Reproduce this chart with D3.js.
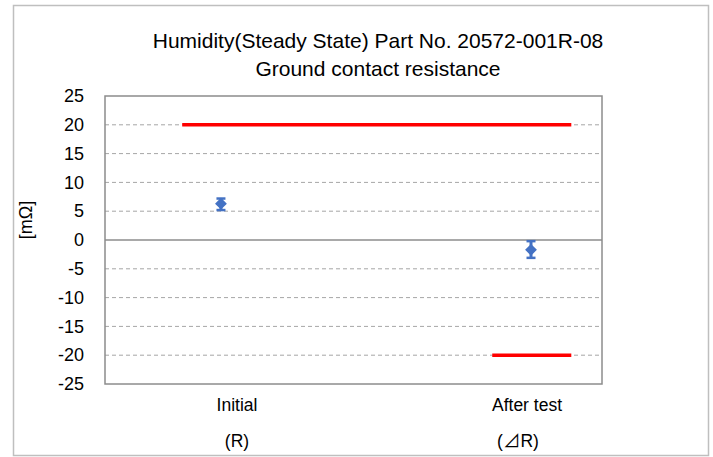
<!DOCTYPE html>
<html lang="en">
<head>
    <meta charset="UTF-8">
    <title>Ground contact resistance</title>
    <script src="https://d3js.org/d3.v7.min.js"></script>
    <style>
        body { margin: 0; background: #fff; }
        text { font-family: "Liberation Sans", Arial, sans-serif; fill: #000; }
    </style>
</head>
<body>
    <svg id="chart" width="713" height="457"></svg>
    <script>
        // data
        const titleLines = ["Humidity(Steady State) Part No. 20572-001R-08", "Ground contact resistance"];
        const categories = ["Initial", "After test"];
        const subLabels = ["(R)", "(⊿R)"];
        const catPos = [1, 2];
        const maxVals = [7.2, -0.2];
        const minVals = [5.2, -3.1];
        const avgVals = [6.3, -1.7];
        const yTicks = [25, 20, 15, 10, 5, 0, -5, -10, -15, -20, -25];
        // limit lines: [x start, x end, value]
        const upperLimit = [[0.875, 2.13, 20]];
        const lowerLimit = [[1.875, 2.13, -20]];

        const svg = d3.select("#chart");
        const margin = { top: 96, right: 111, bottom: 73, left: 105 };
        const width = 713 - margin.left - margin.right,
              height = 457 - margin.top - margin.bottom;

        // outer chart border
        svg.append("rect").attr("x", 13.5).attr("y", 5.5).attr("width", 695).attr("height", 450)
            .attr("fill", "none").attr("stroke", "#bfbfbf").attr("stroke-width", 1.5);

        const x = d3.scaleLinear().domain([0.626, 2.229]).range([0, width]);
        const y = d3.scaleLinear().domain([-25, 25]).range([height, 0]);

        const g = svg.append("g").attr("transform", `translate(${margin.left},${margin.top})`);

        // gridlines
        g.append("g").selectAll("line").data(yTicks.filter(d => d !== 25 && d !== -25)).enter().append("line")
            .attr("x1", 0).attr("x2", width)
            .attr("y1", d => y(d)).attr("y2", d => y(d))
            .attr("stroke", d => d === 0 ? "#8c8c8c" : "#a6a6a6")
            .attr("stroke-width", d => d === 0 ? 1.5 : 1)
            .attr("stroke-dasharray", d => d === 0 ? null : "4,3");

        // plot border
        g.append("rect").attr("width", width).attr("height", height)
            .attr("fill", "none").attr("stroke", "#8c8c8c").attr("stroke-width", 1.5);

        // y axis labels
        const yAxis = g.append("g").call(d3.axisLeft(y).tickValues(yTicks).tickFormat(d => String(d)).tickSize(0).tickPadding(21));
        yAxis.select(".domain").remove();
        yAxis.selectAll("text").style("font-size", "18px").style("font-family", "Liberation Sans, Arial, sans-serif");

        // limit lines
        g.append("g").selectAll("line").data(upperLimit.concat(lowerLimit)).enter().append("line")
            .attr("x1", d => x(d[0])).attr("x2", d => x(d[1]))
            .attr("y1", d => y(d[2])).attr("y2", d => y(d[2]))
            .attr("stroke", "#ff0000").attr("stroke-width", 3.5);

        // error bars (max-min) with average marker
        const pts = catPos.map((c, i) => ({ x: c, max: maxVals[i], min: minVals[i], avg: avgVals[i] }));
        const pg = g.append("g").selectAll("g").data(pts).enter().append("g").attr("fill", "#4472c4").attr("stroke", "#4472c4");
        pg.append("line")
            .attr("x1", d => x(d.x)).attr("x2", d => x(d.x))
            .attr("y1", d => y(d.max)).attr("y2", d => y(d.min))
            .attr("stroke-width", 3);
        pg.append("line")
            .attr("x1", d => x(d.x) - 4.5).attr("x2", d => x(d.x) + 4.5)
            .attr("y1", d => y(d.max)).attr("y2", d => y(d.max))
            .attr("stroke-width", 2.5);
        pg.append("line")
            .attr("x1", d => x(d.x) - 4.5).attr("x2", d => x(d.x) + 4.5)
            .attr("y1", d => y(d.min)).attr("y2", d => y(d.min))
            .attr("stroke-width", 2.5);
        pg.append("path")
            .attr("transform", d => `translate(${x(d.x)},${y(d.avg)})`)
            .attr("d", d3.symbol(d3.symbolDiamond2, 60))
            .attr("stroke-width", 1.5);

        // category labels
        const catLabelX = [237, 527];
        const subLabelX = [237, 518];
        svg.append("g").selectAll("text").data(categories).enter().append("text")
            .attr("x", (d, i) => catLabelX[i]).attr("y", 411)
            .attr("text-anchor", "middle").style("font-size", "17.5px")
            .text(d => d);
        const sub = svg.append("g").selectAll("text").data(subLabels).enter().append("text")
            .attr("x", (d, i) => subLabelX[i]).attr("y", 447)
            .attr("text-anchor", "middle").style("font-size", "17.5px");
        // the ⊿ glyph drawn with a CJK font so it has full height
        sub.each(function (d) {
            const t = d3.select(this);
            d.split("").forEach(ch => {
                const ts = t.append("tspan").text(ch);
                if (ch === "⊿") ts.style("font-family", "Noto Sans CJK JP");
            });
        });

        // y title
        svg.append("text")
            .attr("transform", "translate(32,220) rotate(-90)")
            .attr("text-anchor", "middle").style("font-size", "18px")
            .text("[mΩ]");

        // chart title
        svg.append("g").selectAll("text").data(titleLines).enter().append("text")
            .attr("x", 378).attr("y", (d, i) => 48 + i * 28)
            .attr("text-anchor", "middle").style("font-size", "21px")
            .text(d => d);
    </script>
</body>
</html>
